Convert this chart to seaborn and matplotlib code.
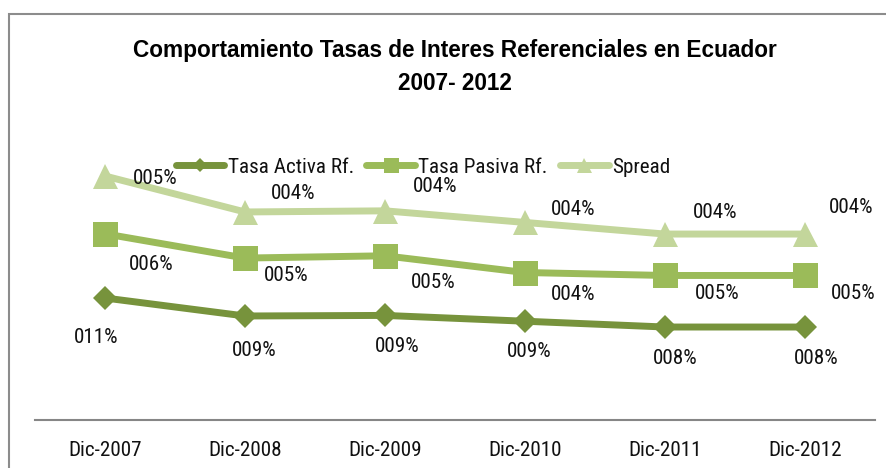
import matplotlib
matplotlib.use('Agg')
import matplotlib.pyplot as plt
import matplotlib.patches as mpatches
from matplotlib import font_manager
import pandas as pd
import seaborn as sns

# -- Data (tasas referenciales, fracciones) --
years = ['Dic-2007', 'Dic-2008', 'Dic-2009', 'Dic-2010', 'Dic-2011', 'Dic-2012']
tasa_activa = [0.1072, 0.0914, 0.0919, 0.0868, 0.0817, 0.0817]
tasa_pasiva = [0.0564, 0.0509, 0.0524, 0.0428, 0.0453, 0.0453]
spread = [0.0508, 0.0405, 0.0395, 0.0440, 0.0364, 0.0364]
series_names = ['Tasa Activa Rf.', 'Tasa Pasiva Rf.', 'Spread']


def pick_font(candidates):
    # first installed family of the list, with a size that gives Arial Narrow widths
    for fam, size in candidates:
        try:
            font_manager.findfont(font_manager.FontProperties(family=fam),
                                  fallback_to_default=False)
            return fam, size
        except Exception:
            continue
    return 'DejaVu Sans', 12


# -- Style --
sns.set_style('white')
BODY, FS = pick_font([('Liberation Sans Narrow', 15.5), ('Arial Narrow', 15.5),
                      ('Roboto Condensed', 15.2), ('Liberation Sans', 13)])
plt.rcParams['font.family'] = [BODY, 'DejaVu Sans']
COLORS = ['#77933C', '#9BBB59', '#C3D69B']
MARKERS = ['D', 's', '^']
MSIZES = [12, 18, 18]
TEXT = '#111111'

# label offsets in pixels (dx, dy downwards) - Excel placement
label_offsets = [
    [(-9, 39), (9, 35), (12, 31), (4, 30), (10, 31), (11, 31)],
    [(46, 31), (41, 17), (48, 27), (48, 22), (52, 18), (48, 18)],
    [(50, 2), (48, -18), (50, -24), (48, -13), (50, -22), (46, -27)],
]

# stacked line chart (as in Excel)
raw = [tasa_activa, tasa_pasiva, spread]
rows = []
cum = [0.0] * len(years)
for name, vals in zip(series_names, raw):
    cum = [c + v for c, v in zip(cum, vals)]
    for i, (yr, v, c) in enumerate(zip(years, vals, cum)):
        rows.append({'x': i, 'year': yr, 'serie': name, 'value': v, 'stacked': c})
df = pd.DataFrame(rows)

fig = plt.figure(figsize=(8.86, 4.68), dpi=100)
W, H = 886, 468
ax = fig.add_axes([35 / W, 1 - 420 / H, 840 / W, 270 / H])

for k, name in enumerate(series_names):
    d = df[df['serie'] == name]
    sns.lineplot(data=d, x='x', y='stacked', ax=ax, color=COLORS[k],
                 marker=MARKERS[k], markersize=MSIZES[k], linewidth=5,
                 markeredgewidth=0, label=name, solid_capstyle='round')
    for (_, r), (dx, dy) in zip(d.iterrows(), label_offsets[k]):
        ax.annotate(f"{round(r['value'] * 100):03d}%", (r['x'], r['stacked']),
                    xytext=(dx, -dy), textcoords='offset pixels',
                    ha='center', va='center', fontsize=FS, color=TEXT)

ax.set_xlim(-0.5, len(years) - 0.5)
ax.set_ylim(0, 270 / 1138)
ax.set_xticks(range(len(years)))
ax.set_xticklabels(years, fontsize=FS, color=TEXT)
ax.set_yticks([])
ax.set_xlabel('')
ax.set_ylabel('')
ax.tick_params(axis='x', length=0, pad=15)
for s in ['top', 'left', 'right']:
    ax.spines[s].set_visible(False)
ax.spines['bottom'].set_color('#868686')
ax.spines['bottom'].set_linewidth(1.5)

leg = ax.legend(loc='center', bbox_to_anchor=(423 / W, 1 - 167 / H),
                bbox_transform=fig.transFigure, ncol=3, frameon=False,
                fontsize=FS, handlelength=2.3, handletextpad=0.15,
                columnspacing=0.6, markerscale=0.6, borderaxespad=0)
for t in leg.get_texts():
    t.set_color(TEXT)

TITLE_FONT = ['Liberation Sans', 'DejaVu Sans']
fig.text(455 / W, 1 - 50 / H, 'Comportamiento Tasas de Interes Referenciales en Ecuador',
         ha='center', va='center', fontsize=16.3, fontweight='bold',
         family=TITLE_FONT, color='black')
fig.text(455 / W, 1 - 83 / H, '2007- 2012',
         ha='center', va='center', fontsize=16.3, fontweight='bold',
         family=TITLE_FONT, color='black')

# chart border (cropped on right and bottom)
fig.patches.append(mpatches.Rectangle((9 / W, -0.1), 1.2, 1.1 - 14 / H,
                                      transform=fig.transFigure, fill=False,
                                      edgecolor='#8c8c8c', linewidth=1.5))

fig.savefig('out.png', dpi=100, facecolor='white')
